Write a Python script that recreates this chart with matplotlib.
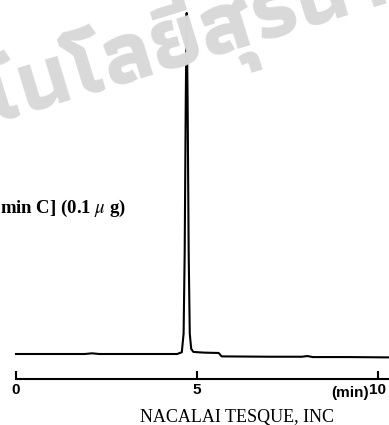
import numpy as np
import matplotlib
matplotlib.use("Agg")
import matplotlib.pyplot as plt
from matplotlib.transforms import blended_transform_factory

W, H, DPI = 389, 425, 100

# chromatogram trace: retention time (min) vs detector response (baseline = 0, peak = 100)
time_min = [0.0, 1.0, 1.9, 2.1, 2.3, 3.5, 4.45, 4.58, 4.63, 4.66, 4.69, 4.715,
            4.74, 4.77, 4.80, 4.84, 4.90, 5.2, 5.6, 5.68, 7.0, 7.9, 8.05, 8.2, 9.2, 10.35]
response = [0.0, 0.0, 0.0, 0.2, 0.0, 0.0, 0.0, 0.5, 6.0, 30.0, 75.0, 100.0,
            75.0, 30.0, 6.0, 1.5, 0.6, 0.4, 0.3, -0.7, -0.8, -0.8, -0.6, -0.9, -0.9, -1.0]

tick_values = [0, 5, 10]
tick_labels = ["0", "5", "10"]
unit_label = "(min)"
sample_label = r"min C] (0.1 $\mu$ g)"
maker_label = "NACALAI TESQUE, INC"
watermark = "มหาวิทยาลัยเทคโนโลยีสุรนารี"
watermark_prefix = "มหาวิทยาลัยเทคโนโล"

plt.rcParams["mathtext.fontset"] = "stix"

px_per_min = 36.2
x0_px = 16
units_px = 3.41
base_px = 354

xlim = (-x0_px / px_per_min, (W - x0_px) / px_per_min)

fig = plt.figure(figsize=(W / DPI, H / DPI), dpi=DPI)
fig.patch.set_facecolor("white")

# watermark first so every trace sits on top of it
thai = ["Athiti", "Kanit", "DejaVu Sans"]
wm_size = 63
wm_rot = 17
renderer = fig.canvas.get_renderer()
probe = fig.text(0, 0, watermark_prefix, fontsize=wm_size, family=thai, weight="bold")
pw = probe.get_window_extent(renderer).width - 47
probe.remove()
ang = np.deg2rad(wm_rot)
px, py = 113, H - 85
sx, sy = px - pw * np.cos(ang), py - pw * np.sin(ang)
fig.text(sx / W, sy / H, watermark, fontsize=wm_size, family=thai, weight="bold",
         color="#d9d9d9", rotation=wm_rot, rotation_mode="anchor", ha="left", va="baseline",
         zorder=0)

ax = fig.add_axes([0, 0, 1, 1])
ax.patch.set_alpha(0)
ax.set_xlim(*xlim)
ax.set_ylim((base_px - H) / units_px, base_px / units_px)
ax.axis("off")
ax.plot(time_min, response, color="black", lw=1.5, solid_joinstyle="round")

# time axis with upward ticks
axis_y = 378.5
label_base = 396.5
ax_t = fig.add_axes([0, (H - axis_y) / H, 1, 0.05])
ax_t.patch.set_alpha(0)
ax_t.set_xlim(*xlim)
for s in ("top", "left", "right"):
    ax_t.spines[s].set_visible(False)
ax_t.spines["bottom"].set_linewidth(1.5)
ax_t.spines["bottom"].set_bounds(0, xlim[1])
ax_t.set_yticks([])
ax_t.set_xticks(tick_values)
ax_t.set_xticklabels(tick_labels, family="Liberation Sans", weight="bold", fontsize=11)
ax_t.tick_params(axis="x", direction="in", length=5.5, width=1.5, pad=3)
ax_t.text(9.76, (H - label_base) / H, unit_label,
          transform=blended_transform_factory(ax_t.transData, fig.transFigure),
          family="Liberation Sans", weight="bold", fontsize=11, ha="right", va="baseline")

fig.text(237 / W, (H - 422) / H, maker_label, family="Liberation Serif", fontsize=13,
         ha="center", va="baseline")
fig.text(0, (H - 213) / H, sample_label, family="Liberation Serif", fontsize=13.5,
         weight="bold", ha="left", va="baseline")
fig.text(-4 / W, (H - 92) / H, "l", family="Liberation Serif", fontsize=11,
         weight="bold", ha="left", va="baseline")

fig.savefig("out.png", dpi=DPI)
